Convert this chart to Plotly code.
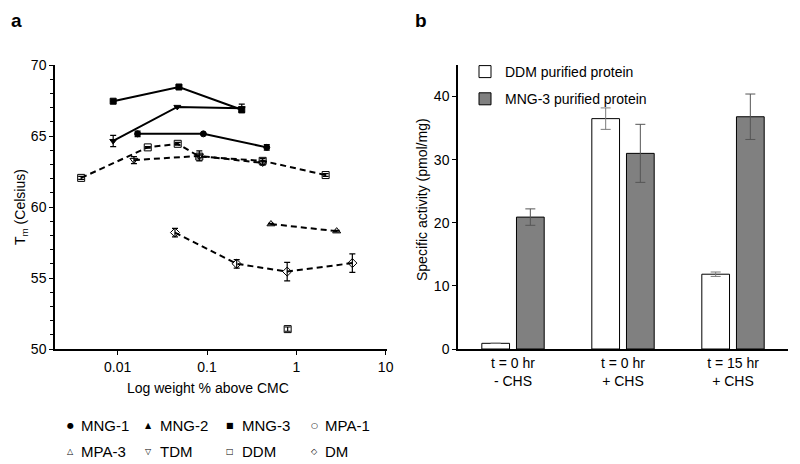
import plotly.graph_objects as go

# ---------------- Panel a data (Tm vs log weight % above CMC) ----------------
mng1_x = [0.0167, 0.091, 0.467]
mng1_y = [65.15, 65.15, 64.2]
mng1_err = [0.2, 0.0, 0.2]

mng2_x = [0.0089, 0.0465, 0.245]
mng2_y = [64.65, 67.05, 66.95]
mng2_err = [0.4, 0.0, 0.3]

mng3_x = [0.0089, 0.0485, 0.245]
mng3_y = [67.45, 68.45, 66.85]
mng3_err = [0.0, 0.1, 0.15]

mpa1_x = [0.80]
mpa1_y = [51.4]
mpa1_err = [0.15]

mpa3_x = [0.52, 2.83]
mpa3_y = [58.8, 58.3]
mpa3_err = [0.05, 0.05]

tdm_x = [0.0152, 0.082, 0.42]
tdm_y = [63.3, 63.6, 63.1]
tdm_err = [0.25, 0.35, 0.15]

ddm_x = [0.0039, 0.0217, 0.047, 0.082, 0.42, 2.13]
ddm_y = [62.05, 64.2, 64.45, 63.55, 63.25, 62.25]
ddm_err = [0.1, 0.05, 0.1, 0.1, 0.15, 0.1]

dm_x = [0.0438, 0.215, 0.79, 4.24]
dm_y = [58.2, 56.0, 55.45, 56.05]
dm_err = [0.3, 0.3, 0.65, 0.65]

x_tickvals = [0.01, 0.1, 1, 10]
x_ticktext = ["0.01", "0.1", "1", "10"]
y_tickvals = [50, 55, 60, 65, 70]

legend_a_rows = [["MNG-1", "MNG-2", "MNG-3", "MPA-1"],
                 ["MPA-3", "TDM", "DDM", "DM"]]
legend_a_syms = [["●", "▲", "■", "○"],
                 ["△", "▽", "□", "◇"]]

# ---------------- Panel b data (specific activity) ----------------
categories = ["t = 0 hr<br>- CHS", "t = 0 hr<br>+ CHS", "t = 15 hr<br>+ CHS"]
ddm_act = [0.9, 36.5, 11.85]
ddm_act_err = [0.0, 1.7, 0.35]
mng3_act = [20.9, 31.0, 36.8]
mng3_act_err = [1.3, 4.6, 3.6]

FONT = "Arial, Liberation Sans, sans-serif"

fig = go.Figure()

def line_trace(x, y, err, symbol, dash, name, filled):
    mk = dict(symbol=symbol, size=6 if filled else 7, color="black",
              line=dict(color="black", width=1))
    return go.Scatter(
        x=x, y=y, mode="lines+markers", name=name, showlegend=False,
        line=dict(color="black", width=2, dash=dash),
        marker=mk,
        error_y=dict(type="data", array=err, visible=True, color="black",
                     thickness=1.2, width=3),
        xaxis="x", yaxis="y")

fig.add_trace(line_trace(mng1_x, mng1_y, mng1_err, "circle", "solid", "MNG-1", True))
fig.add_trace(line_trace(mng2_x, mng2_y, mng2_err, "triangle-down", "solid", "MNG-2", True))
fig.add_trace(line_trace(mng3_x, mng3_y, mng3_err, "square", "solid", "MNG-3", True))
fig.add_trace(line_trace(tdm_x, tdm_y, tdm_err, "triangle-down-open", "6px,4px", "TDM", False))
fig.add_trace(line_trace(ddm_x, ddm_y, ddm_err, "square-open", "6px,4px", "DDM", False))
fig.add_trace(line_trace(mpa3_x, mpa3_y, mpa3_err, "triangle-up-open", "6px,4px", "MPA-3", False))
fig.add_trace(line_trace(dm_x, dm_y, dm_err, "diamond-open", "6px,4px", "DM", False))
fig.add_trace(line_trace(mpa1_x, mpa1_y, mpa1_err, "square-open", "6px,4px", "MPA-1", False))

# Panel b bars
fig.add_trace(go.Bar(
    x=categories, y=ddm_act, name="DDM purified protein",
    marker=dict(color="white", line=dict(color="black", width=1)),
    error_y=dict(type="data", array=ddm_act_err, color="#7a7a7a", thickness=1, width=5),
    xaxis="x2", yaxis="y2", legendgroup="g1"))
fig.add_trace(go.Bar(
    x=categories, y=mng3_act, name="MNG-3 purified protein",
    marker=dict(color="#808080", line=dict(color="black", width=1)),
    error_y=dict(type="data", array=mng3_act_err, color="#555555", thickness=1, width=5),
    xaxis="x2", yaxis="y2", legendgroup="g2"))

W, H = 800, 464
def px(xp):
    return xp / W
def py(yp):
    return 1 - yp / H

axis_common = dict(showline=True, linecolor="black", linewidth=1.5, mirror=False,
                   showgrid=False, zeroline=False, ticks="outside", ticklen=4,
                   tickcolor="black", tickwidth=1.2, automargin=False,
                   tickfont=dict(family=FONT, size=14, color="black"))

def ann(text, x, y, size=14, angle=0, xanchor="center", yanchor="middle", family=FONT):
    return dict(text=text, x=px(x), y=py(y), xref="paper", yref="paper",
                showarrow=False, textangle=angle, xanchor=xanchor, yanchor=yanchor,
                font=dict(family=family, size=size, color="black"))

annotations = [
    ann("<b>a</b>", 16, 21, size=19),
    ann("<b>b</b>", 421, 21, size=19),
    ann("T<sub>m</sub> (Celsius)", 21, 207, angle=-90),
    ann("Log weight % above CMC", 208, 388),
    ann("Specific activity (pmol/mg)", 422, 200, angle=-90),
]
# Panel a legend (text entries)
col_sym_x = [70, 148, 230, 314]
col_txt_x = [79, 158, 240, 323]
row_y = [425, 451]
for r in range(2):
    for c in range(4):
        annotations.append(ann(legend_a_syms[r][c], col_sym_x[c], row_y[r], size=8,
                               family="DejaVu Sans"))
        annotations.append(ann(legend_a_rows[r][c], col_txt_x[c], row_y[r], size=15,
                               xanchor="left"))

fig.update_layout(
    template="none",
    width=W, height=H, autosize=False,
    margin=dict(l=0, r=0, t=0, b=0, pad=0, autoexpand=False),
    paper_bgcolor="white", plot_bgcolor="white",
    font=dict(family=FONT, size=14, color="black"),
    xaxis=dict(type="log", domain=[px(55), px(386.7)], range=[-2.702, 1.012],
               tickvals=x_tickvals, ticktext=x_ticktext, anchor="y", **axis_common),
    yaxis=dict(domain=[py(349), py(65)], range=[50, 70], tickvals=y_tickvals,
               anchor="x", minor=dict(dtick=1, ticks="outside", ticklen=3,
                                      tickcolor="black", showgrid=False),
               **axis_common),
    xaxis2=dict(domain=[px(458), px(788)], range=[-0.5, 2.5], anchor="y2",
                **{**axis_common, "ticks": ""}),
    yaxis2=dict(domain=[py(349), py(65)], range=[0, 45], tickvals=[0, 10, 20, 30, 40],
                anchor="x2", **axis_common),
    barmode="group", bargap=0.37, bargroupgap=0.2,
    showlegend=True,
    legend=dict(x=px(465), y=py(56), xanchor="left", yanchor="top",
                bgcolor="rgba(0,0,0,0)", borderwidth=0,
                font=dict(family=FONT, size=14, color="black"),
                tracegroupgap=6, traceorder="grouped"),
    annotations=annotations,
)

fig.write_html("out.html", config={"displayModeBar": False},
               post_script="document.body.style.margin='0px';document.body.style.padding='0px';")
